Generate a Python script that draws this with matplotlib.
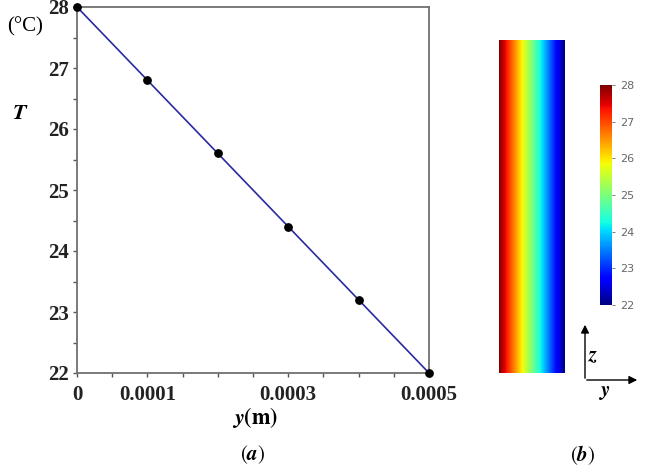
import numpy as np
import matplotlib
matplotlib.use("Agg")
import matplotlib.pyplot as plt
from matplotlib.ticker import MultipleLocator, FixedLocator

plt.rcParams["mathtext.fontset"] = "stix"

y_pos = [0, 0.0001, 0.0002, 0.0003, 0.0004, 0.0005]
temps = [28, 26.8, 25.6, 24.4, 23.2, 22]
x_tick_vals = [0, 0.0001, 0.0003, 0.0005]
x_tick_labels = ["0", "0.0001", "0.0003", "0.0005"]
y_tick_vals = [22, 23, 24, 25, 26, 27, 28]
cbar_ticks = [22, 23, 24, 25, 26, 27, 28]

W, H = 646, 467
fig = plt.figure(figsize=(W / 100, H / 100), dpi=100)
serif = "Liberation Serif"

def ax_rect(l, t, r, b):
    return [l / W, 1 - b / H, (r - l) / W, (b - t) / H]

ax = fig.add_axes(ax_rect(77, 7, 429, 373))
ax.plot(y_pos, temps, color="#2a2aa0", lw=1.2, zorder=2)
ax.scatter(y_pos, temps, color="black", s=28, zorder=3, clip_on=False)
ax.set_xlim(0, 0.0005)
ax.set_ylim(22, 28)
ax.xaxis.set_major_locator(FixedLocator(x_tick_vals))
ax.set_xticklabels(x_tick_labels)
ax.xaxis.set_minor_locator(MultipleLocator(0.00005))
ax.yaxis.set_major_locator(FixedLocator(y_tick_vals))
ax.yaxis.set_minor_locator(MultipleLocator(0.5))
for s in ax.spines.values():
    s.set_color("#707070")
    s.set_linewidth(1.3)
ax.tick_params(which="both", direction="out", color="#555555", length=3, width=1)
ax.tick_params(axis="both", labelsize=15)
ax.tick_params(axis="x", pad=6)
ax.tick_params(axis="y", pad=3)
for lab in ax.get_xticklabels() + ax.get_yticklabels():
    lab.set_fontfamily(serif)
    lab.set_fontweight("bold")
    lab.set_color("#222222")

fig.text(25 / W, 1 - 27 / H, "(°C)", fontsize=15, family=serif, ha="center", va="center")
fig.text(20 / W, 1 - 113 / H, "$\\boldsymbol{T}$", fontsize=16,
         ha="center", va="center")
fig.text(255 / W, 1 - 418 / H, "$\\boldsymbol{y}\\mathbf{(m)}$", fontsize=16,
         ha="center", va="center")
fig.text(253 / W, 1 - 455 / H, "$(\\boldsymbol{a})$", fontsize=15,
         ha="center", va="center")
fig.text(583 / W, 1 - 455 / H, "$(\\boldsymbol{b})$", fontsize=15,
         ha="center", va="center")

# panel b: temperature field
axb = fig.add_axes(ax_rect(499, 40, 565, 373))
grid = np.linspace(28, 22, 200).reshape(1, -1)
im = axb.imshow(grid, cmap="jet", vmin=22, vmax=28, aspect="auto")
axb.set_axis_off()

cax = fig.add_axes(ax_rect(600, 85, 612, 305))
cb = fig.colorbar(im, cax=cax, ticks=cbar_ticks)
cb.outline.set_visible(False)
cax.tick_params(labelsize=8, colors="#666666", length=2, width=0.6)
for lab in cax.get_yticklabels():
    lab.set_color("#666666")

# coordinate arrows
arr = fig.add_axes([0, 0, 1, 1], facecolor="none")
arr.set_xlim(0, W)
arr.set_ylim(H, 0)
arr.set_axis_off()
arr.annotate("", xy=(585, 322), xytext=(585, 381),
             arrowprops=dict(arrowstyle="-|>", color="black", lw=1, mutation_scale=12))
arr.annotate("", xy=(640, 380), xytext=(584, 380),
             arrowprops=dict(arrowstyle="-|>", color="black", lw=1, mutation_scale=12))
arr.text(593, 355, "$\\boldsymbol{z}$", fontsize=15, ha="center", va="center")
arr.text(605, 392, "$\\boldsymbol{y}$", fontsize=15, ha="center", va="center")

fig.savefig("out.png", dpi=100)
